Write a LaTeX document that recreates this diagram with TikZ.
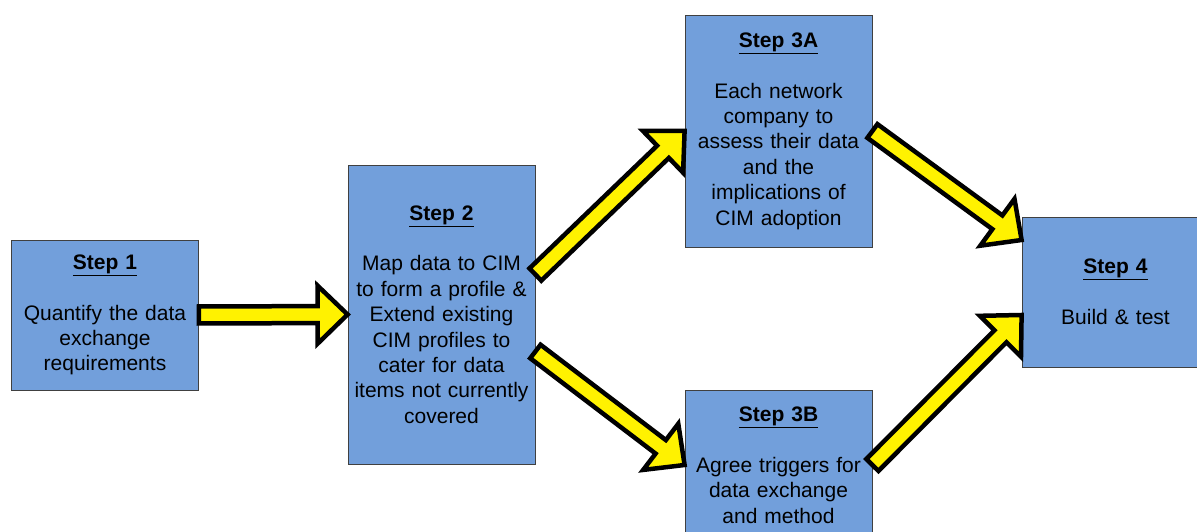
\documentclass[tikz,border=0pt]{standalone}
\usepackage{fontspec}
\setmainfont{Liberation Sans}
\usepackage{tikz}
\usetikzlibrary{calc}
\usepackage{xcolor}

\definecolor{boxblue}{RGB}{114,159,219}

\tikzset{
  stepbox/.style={draw=black!75, line width=0.8pt, fill=boxblue, rectangle,
    text width=180pt, inner sep=3.5pt, align=center,
    font=\fontsize{21}{25.4}\selectfont},
  fatarrow/.style={draw=black, fill=yellow, line width=4.5pt, line join=miter}
}

% block arrow from #1 to #2 (tip at #2)
\newcommand{\blockarrow}[2]{%
  \draw[fatarrow] let \p1=($(#2)-(#1)$), \n1={atan2(\y1,\x1)},
      \n2={veclen(\x1,\y1)-30pt} in
    ($(#1)+(\n1+90:8.5pt)$) -- ++(\n1:\n2) -- ++(\n1+90:20.5pt) -- (#2)
    -- ($(#1)+(\n1:\n2)+(\n1-90:29pt)$) -- ++(\n1+90:20.5pt)
    -- ($(#1)+(\n1-90:8.5pt)$) -- cycle;
}

\begin{document}
\begin{tikzpicture}[x=1pt,y=1pt]
                \clip (0,0) rectangle (1197,532);
                \fill[white] (0,0) rectangle (1197,532);
                \node[stepbox, minimum height=150pt] (step1) at (105,217)
                  {\underline{\textbf{Step 1}}\\[25.4pt]Quantify the data\\exchange\\requirements};
                \node[stepbox, minimum height=299pt] (step2) at (441.5,217.5)
                  {\underline{\textbf{Step 2}}\\[25.4pt]Map data to CIM\\to form a profile \&\\Extend existing\\CIM profiles to\\cater for data\\items not currently\\covered};
                \node[stepbox, minimum height=232pt] (step3a) at (778.5,401)
                  {\underline{\textbf{Step 3A}}\\[25.4pt]Each network\\company to\\assess their data\\and the\\implications of\\CIM adoption};
                \node[stepbox, minimum height=150pt] (step3b) at (778.5,67)
                  {\underline{\textbf{Step 3B}}\\[25.4pt]Agree triggers for\\data exchange\\and method};
                \node[stepbox, minimum height=150pt] (step4) at (1115.5,240)
                  {\underline{\textbf{Step 4}}\\[25.4pt]Build \& test};
                \coordinate (s2up) at ([yshift=40pt]step2.east);
                \coordinate (s2down) at ([yshift=-37pt]step2.east);
                \coordinate (s4up) at ([yshift=52pt]step4.west);
                \coordinate (s4down) at ([yshift=-23pt]step4.west);
                \blockarrow{step1.east}{step2.west}
                \blockarrow{s2up}{step3a.west}
                \blockarrow{s2down}{step3b.west}
                \blockarrow{step3a.east}{s4up}
                \blockarrow{step3b.east}{s4down}
            \end{tikzpicture}
\end{document}
